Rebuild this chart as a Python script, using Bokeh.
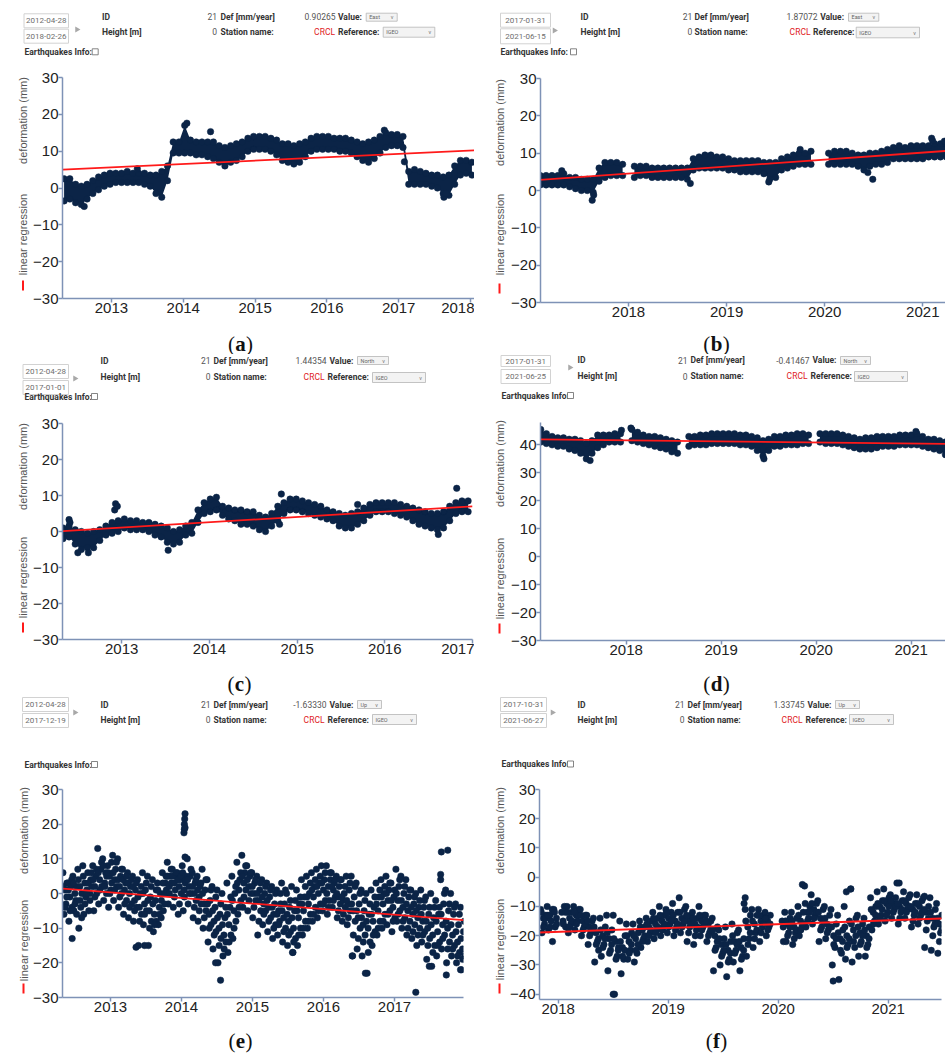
import numpy as np
from math import pi
from bokeh.plotting import figure
from bokeh.layouts import column, row
from bokeh.models import Range1d, FixedTicker
from bokeh.core.properties import value
from bokeh.embed import file_html
from bokeh.resources import INLINE

nan = float("nan")

# ---------------------------------------------------------------- data
YEARS = list(range(2012, 2023))
LETTERS = ["a", "b", "c", "d", "e", "f"]
START_DATES = ["2012-04-28", "2017-01-31", "2012-04-28", "2017-01-31", "2012-04-28", "2017-10-31"]
END_DATES = ["2018-02-26", "2021-06-15", "2017-01-01", "2021-06-25", "2017-12-19", "2021-06-27"]
DEF_RATES = ["0.90265", "1.87072", "1.44354", "-0.41467", "-1.63330", "1.33745"]
COMPONENTS = ["East", "East", "North", "North", "Up", "Up"]
STATION_ID = "21"
HEIGHT = "0"
STATION = "CRCL"
REFERENCE = "IGEO"

# (a) East 2012-2018 : low / high edge of the point cloud, every A_DT years
A_T0, A_DT = 2012.34, 0.08
A_LO = [-3.5, -3, -4, -4.5, -3, -1.5, -0.5, 0.5, 1, 1.5,
        1.5, 1.5, 1.5, 1.5, 1, 0.5, -1.5, -2.5, 2, 9.5,
        9.5, 9.5, 9.5, 9, 9, 8.5, 8, 7, 6, 7,
        7.5, 8.5, 10, 10.5, 10.5, 10.5, 10, 9, 7.5, 7,
        6.5, 7, 8.5, 10, 10.5, 10.5, 10.5, 10.5, 10, 10,
        9.5, 8.5, 7.5, 7, 8, 9.5, 11, 11.5, 11.5, 11,
        1, 1, 1, 1, 0.5, 0, -1.5, -2, 1, 3.5,
        4, 3.5]
A_HI = [2.5, 2.5, 1, 0.5, 1, 2, 3, 3.5, 4, 4,
        4, 4.5, 4, 4, 4, 3.5, 3.5, 4.5, 6, 12.5,
        12.5, 17, 13, 12.5, 12.5, 12.5, 12.5, 11.5, 11, 11.5,
        12, 12.5, 13.5, 14, 14, 14, 13.5, 13, 12, 12,
        11.5, 12, 12.5, 13.5, 14, 14, 14, 13.5, 13.5, 13.5,
        13, 12.5, 12, 12.5, 13, 14, 15, 14.5, 14.5, 14,
        4.5, 5, 4.5, 4, 3.5, 3.5, 3, 3.5, 6, 7.5,
        7.5, 7]
A_OUT_X = [2012.62, 2013.36, 2014.38, 2014.05, 2016.80, 2017.08, 2017.63, 2017.66]
A_OUT_Y = [-5, 5.2, 15.3, 17.6, 15.7, 7.1, -2.5, -1.5]
A_REG_X = [2012.32, 2018.15]
A_REG_Y = [5.0, 10.3]

# (b) East 2017-2021
B_T0, B_DT = 2017.10, 0.06
B_LO = [1.5, 1.5, 1.5, 1.5, 1.5, 1, 0.5, 0, 0, -0.5,
        2.5, 3.5, 4, 4, 4, nan, 3.5, 4, 4, 3.5,
        3.5, 3.5, 3.5, 3.5, 3.5, 3, 5.5, 6, 6, 6,
        6, 6, 5.5, 5.5, 5, 5, 5, 5, 4.5, 3,
        3.5, 5.5, 6, 6.5, 7, 7, 7, nan, nan, 7,
        7, 7, 7, 7, 6.5, 5.5, 6.5, 7, 7, 7.5,
        8.5, 8.5, 8.5, 8.5, 8.5, 8.5, 9, 9, 9, 9,
        9.5, 9.5, 9.5]
B_HI = [4, 4, 4, 4, 4.5, 3.5, 3.5, 3, 3, 3,
        6, 7.5, 7.5, 7.5, 7, nan, 6.5, 6.5, 6.5, 6,
        6, 6, 6, 6, 6, 6, 8.5, 9, 9.5, 9.5,
        9, 9, 8.5, 8, 8, 8, 8, 8, 7.5, 7.5,
        7.5, 8.5, 9, 9.5, 10, 10, 10.5, nan, nan, 10,
        10.5, 10.5, 10.5, 10, 9.5, 9.5, 10, 10, 10.5, 11,
        11.5, 12, 11.5, 12, 12, 12, 12, 12.5, 12.5, 12.5,
        12.5, 12.5, 12.5]
B_OUT_X = [2017.32, 2017.63, 2017.645, 2018.63, 2019.43, 2020.44, 2020.49, 2021.09, 2021.10, 2021.22, 2019.75]
B_OUT_Y = [5.3, -2.6, -1.2, 1.9, 2.3, 4.8, 3.0, 14.0, 13.3, 13.2, 11.0]
B_REG_X = [2017.08, 2021.45]
B_REG_Y = [2.8, 11.0]

# (c) North 2012-2017
C_T0, C_DT = 2012.33, 0.07
C_LO = [-2, -1.5, -3.5, -5, -4.5, -4.5, -2.5, -1, -0.5, 0,
        1, 0.5, 0.5, 0.5, 0, -1, -1.5, -3, -3.5, -3,
        -1, -0.5, 2.5, 5, 5.5, 6, 4.5, 3.5, 3, 2,
        2, 1.5, 0.5, 0, 1.5, 3, 5, 6, 6, 5.5,
        5, 4.5, 4, 3.5, 3, 1.5, 1, 1, 2, 3,
        4.5, 5.5, 5.5, 5.5, 5, 4.5, 4, 3, 2, 1.5,
        1, 0.5, 1, 3, 5, 5.5, 5.5]
C_HI = [1, 1.5, 0.5, 0, -0.5, 0, 0.5, 1.5, 2.5, 3,
        3.5, 3, 3, 2.5, 2.5, 2, 1.5, 1, 0, 0.5,
        1.5, 2.5, 6, 8, 9, 9.5, 7, 6.5, 6, 6,
        5.5, 5.5, 4.5, 4, 5, 7, 8, 9, 9, 8.5,
        8, 7.5, 7, 6, 5.5, 5, 4.5, 5, 5.5, 6.5,
        7.5, 8, 8, 8, 8, 7.5, 7, 6.5, 6, 5.5,
        5, 5, 5.5, 7, 8, 8.5, 8.5]
C_OUT_X = [2012.40, 2012.41, 2012.50, 2012.62, 2012.92, 2012.93, 2012.95, 2013.53, 2014.80, 2014.82, 2015.69, 2016.61, 2016.82]
C_OUT_Y = [3.3, 2.5, -5.9, -5.9, 6.0, 7.7, 7.0, -5.2, 2.0, 10.4, 7.5, -0.8, 12.0]
C_REG_X = [2012.33, 2017.0]
C_REG_Y = [0.1, 7.0]

# (d) North 2017-2021
D_T0, D_DT = 2017.10, 0.06
D_LO = [41, 40.5, 40, 39.5, 39.5, 38.5, 38, 37, 35, 37,
        39, 40, 41, 41, 41, nan, 41.5, 41, 40.5, 40,
        39.5, 39, 38.5, 37.5, 37, nan, 39.5, 40, 40, 40,
        40.5, 40.5, 40.5, 40.5, 40.5, 40, 40, 39.5, 38, 36,
        38, 39.5, 39.5, 40, 40, 40, 40.5, 40.5, nan, 41,
        40.5, 40.5, 40.5, 40, 39.5, 39, 38.5, 38.5, 38.5, 39,
        39.5, 39.5, 39.5, 40, 40, 40, 40, 39.5, 39, 38.5,
        38, 36.5, 35]
D_HI = [45.5, 44, 43, 42.5, 42.5, 42, 42, 41.5, 40.5, 41.5,
        43.5, 43.5, 43.5, 44, 44, nan, 45.5, 44.5, 43.5, 43,
        43, 42.5, 42, 41.5, 41, nan, 43, 43, 43.5, 43.5,
        44, 44, 44, 44, 44, 43.5, 43.5, 43, 42.5, 41.5,
        42, 43, 43, 43.5, 43.5, 44, 44, 43.5, nan, 44,
        44, 44, 44, 43.5, 43, 42.5, 42, 42.5, 42.5, 43,
        43, 43, 43, 43.5, 43.5, 43.5, 44, 43, 42, 42,
        41.5, 41, 40]
D_OUT_X = [2017.62, 2017.95, 2018.05, 2019.45, 2021.05, 2021.40]
D_OUT_Y = [34.4, 45.2, 46, 35, 44.8, 35]
D_REG_X = [2017.08, 2021.48]
D_REG_Y = [42.0, 40.3]

# (e) Up 2012-2017 : individual readings, five per 0.07-year step, plus three core readings per step
E_T0, E_DT = 2012.33, 0.014
E_VALS = [
    [6, -6, 1, -3, 3], [3, -8, -1, 2, -4], [5, -5, 0, -2, 2], [7, -10, 2, -4, 0],
    [8, -6, 3, -1, 1], [6, -5, 0, 4, 2], [8, -5, 2, 5, 0], [13, -3, 4, 7, 2],
    [10, -2, 3, 6, 5], [8, -4, 5, 1, 3], [11, -2, 4, 7, 2], [10, -4, 2, 5, 0],
    [7, -6, 1, 3, -2], [6, -7, 0, 2, -3], [5, -8, -2, 1, -4], [4, -15, -4, 0, -6],
    [6, -9, -3, 1, -5], [5, -15, -5, -1, -8], [4, -11, -6, -2, -8], [3, -9, -4, 0, -2],
    [6, -5, 0, 3, 1], [9, -3, 2, 5, 3], [7, -4, 3, 1, 5], [6, -6, 2, 4, 0],
    [8, -5, 1, 3, 5], [10, -3, 2, 5, 0], [6, -7, 0, 3, -2], [5, -8, -1, 2, -3],
    [7, -10, -3, 1, -5], [4, -14, -6, -2, -9], [2, -16, -8, -4, -11], [1, -20, -10, -6, -13],
    [0, -18, -12, -7, -14], [3, -17, -9, -4, -12], [5, -13, -5, 0, -8], [9, -6, 1, 4, -2],
    [11, -4, 3, 6, 1], [8, -5, 2, 5, 0], [6, -7, 0, 3, -2], [5, -12, -2, 1, -5],
    [4, -9, -3, 0, -5], [3, -11, -4, -1, -7], [2, -13, -6, -3, -9], [1, -12, -5, -8, -3],
    [3, -14, -7, -3, -10], [0, -15, -8, -4, -11], [2, -17, -10, -5, -13], [1, -15, -7, -3, -10],
    [4, -12, -5, -1, -8], [5, -10, -3, 0, -6], [6, -8, -1, 2, -4], [7, -7, 0, 3, -3],
    [8, -5, 1, 4, -2], [8, -6, 2, -2, 4], [6, -4, 1, 3, -1], [5, -7, -1, 2, -3],
    [4, -8, -2, 0, -4], [5, -9, -3, 1, -5], [5, -18, -5, -1, -8], [3, -16, -7, -3, -10],
    [1, -18, -9, -5, -12], [0, -23, -10, -6, -14], [1, -15, -8, -4, -11], [3, -12, -5, -1, -8],
    [4, -10, -3, 0, -6], [5, -9, -2, 1, -5], [3, -11, -4, -1, -7], [7, -8, -2, 2, -5],
    [5, -10, -4, 0, -7], [4, -12, -5, -1, -8], [1, -13, -6, -3, -9], [0, -15, -7, -4, -10],
    [1, -14, -8, -4, -11], [-1, -19, -10, -6, -13], [0, -21, -12, -7, -15], [-2, -18, -11, -6, -14],
    [4, -16, -9, -3, -12], [1, -20, -10, -5, -14], [0, -18, -12, -6, -15], [-3, -20, -14, -9, -17],
    [-4, -22, -16, -11, -18],
]
E_CORE_T0, E_CORE_DT = 2012.337, 0.07 / 3
E_CORE = [
    [2, -4, -1], [1, -5, 4], [3, -3, -6], [4, -2, -7], [5, -3, 0], [3, -2, 6], [4, -1, 7], [6, 1, 9],
    [8, 2, 0], [6, 0, 9], [6, 1, 9], [4, -1, 7], [4, -3, 5], [3, -4, 4], [2, -5, 3], [-1, -8, 2],
    [0, -6, 3], [-2, -10, 2], [-3, -9, 1], [1, -6, -7], [3, -3, 5], [5, 0, 7], [5, -1, 6], [4, -3, 5],
    [6, -1, 4], [4, 0, 7], [2, -4, 4], [1, -5, 3], [0, -7, 4], [-3, -10, 1], [-5, -12, -1], [-7, -15, -3],
    [-9, -16, -4], [-6, -14, -1], [-2, -10, 2], [3, -4, 6], [5, -1, 8], [4, -2, 6], [2, -4, 4], [0, -8, 3],
    [-1, -6, 2], [-2, -8, 1], [-4, -10, 0], [-6, -9, 0], [-5, -11, 1], [-6, -12, -2], [-7, -14, -2], [-5, -12, -1],
    [-3, -10, 2], [-1, -8, 3], [1, -6, 4], [2, -5, 5], [3, -3, 6], [0, -4, 6], [2, -2, 4], [0, -5, 4],
    [-1, -6, 2], [-2, -7, 3], [-3, -12, 2], [-5, -13, 0], [-7, -14, -2], [-8, -17, -3], [-6, -12, -1], [-3, -10, 1],
    [-1, -8, 2], [0, -6, 3], [-2, -8, 1], [0, -6, 4], [-2, -8, 2], [-3, -10, 1], [-4, -11, -1], [-5, -12, -2],
    [-6, -12, -2], [-8, -15, -4], [-9, -17, -4], [-8, -15, -4], [-6, -13, 0], [-8, -16, -3], [-9, -16, -4], [-11, -18, -6],
    [-13, -19, -8],
]
E_OUT_X = [2012.46, 2013.36, 2013.48, 2014.035, 2014.04, 2014.04, 2014.045, 2014.05, 2014.05, 2014.05,
           2014.55, 2014.48, 2015.57, 2016.41, 2016.59, 2017.30, 2017.66, 2017.65, 2017.75, 2017.73,
           2017.49, 2017.93]
E_OUT_Y = [-13, -15.5, -15, 17.5, 18.5, 20, 21.5, 23, 19, 10.5,
           -25, -20, -17, -18, -23, -28.5, 12, 5.5, 12.5, -23.5,
           -21, -22]
E_REG_X = [2012.33, 2017.97]
E_REG_Y = [1.4, -7.7]

# (f) Up 2017-2021 : individual readings, five per 0.06-year step, plus three core readings per step
F_T0, F_DT = 2017.84, 0.012
F_VALS = [
    [-11, -19, -14, -16, -13], [-10, -18, -13, -15, -22], [-11, -17, -14, nan, nan], [nan, -12, -15, -10, -17],
    [-10, -19, -14, -16, -12], [-10, -18, -13, -15, -11], [-11, -20, -15, -17, -13], [-13, -23, -17, -19, -15],
    [-14, -29, -19, -22, -25], [-14, -27, -20, -23, -17], [-13, -32, -21, -25, -18], [-13, -40, -22, -27, -24],
    [-15, -33, -24, -28, -20], [-16, -28, -22, -25, -19], [-16, -29, -21, -26, -19], [-15, -24, -18, -21, -17],
    [-14, -22, -17, -19, -15], [-12, -21, -16, -18, -14], [-10, -20, -15, -17, -13], [-11, -19, -14, -16, -12],
    [-9, -20, -15, -17, -12], [-7, -19, -14, -16, -11], [-10, -22, -15, -17, -13], [-12, -23, -16, -18, -14],
    [-10, -20, -15, -17, -13], [-13, -22, -16, -19, -15], [-14, -32, -20, -24, -17], [-18, -30, -23, -26, -21],
    [-17, -34, -25, -28, -22], [-16, -29, -22, -25, -19], [-18, -32, -24, -27, -21], [-7, -27, -17, -21, -13],
    [-11, -24, -16, -19, -13], [-11, -22, -15, -17, -13], [-12, -20, -15, -17, -13], [nan, nan, nan, nan, nan],
    [nan, nan, nan, -15, -22], [-12, -22, -16, -19, -14], [-12, -23, -17, -19, -14], [-10, -20, -15, -17, -12],
    [-3, -17, -12, -14, -10], [-6, -16, -11, -13, -9], [-8, -22, -14, -17, -11], [-10, -21, -16, -18, -13],
    [-11, -30, -20, -24, -16], [-13, -35, -21, -26, -18], [-10, -28, -20, -23, -15], [-4, -29, -18, -24, -14],
    [-13, -27, -19, -22, -16], [-14, -27, -20, -23, -17], [-7, -18, -12, -15, -10], [-5, -16, -10, -13, -8],
    [-4, -15, -9, -12, -7], [-6, -14, -9, -11, -7], [-2, -16, -10, -12, -8], [-5, -14, -9, -11, -7],
    [-6, -17, -11, -13, -9], [-6, -16, -10, -13, -8], [-7, -24, -12, -15, -10], [-7, -25, -14, -17, -11],
    [-9, -26, -16, -19, -13],
]
F_CORE_T0, F_CORE_DT = 2017.846, 0.02
F_CORE = [
    [-12, -17, -14], [-13, -17, -11], [-12, -16, nan], [nan, -16, -12], [-12, -17, -15], [-12, -16, -13],
    [-13, -18, -16], [-15, -20, -18], [-17, -23, -21], [-18, -24, -21], [-19, -26, -23], [-21, -28, -25],
    [-22, -27, -25], [-20, -26, -23], [-20, -25, -23], [-17, -22, -20], [-16, -20, -18], [-14, -19, -17],
    [-13, -18, -16], [-12, -17, -15], [-13, -18, -16], [-12, -17, -15], [-13, -19, -16], [-14, -20, -17],
    [-13, -18, -16], [-15, -20, -18], [-18, -25, -22], [-21, -27, -25], [-23, -29, -26], [-20, -26, -23],
    [-22, -28, -25], [-15, -23, -19], [-15, -21, -18], [-13, -19, -16], [-14, -18, -16], [nan, nan, nan],
    [nan, nan, -17], [-15, -20, -17], [-15, -21, -18], [-13, -18, -16], [-9, -15, -12], [-9, -14, -12],
    [-12, -18, -15], [-14, -19, -17], [-17, -23, -21], [-19, -25, -22], [-17, -24, -21], [-16, -22, -20],
    [-17, -23, -20], [-18, -24, -21], [-11, -16, -13], [-9, -14, -11], [-8, -13, -10], [-8, -12, -10],
    [-9, -14, -11], [-8, -12, -10], [-10, -15, -12], [-9, -14, -12], [-11, -18, -14], [-12, -20, -16],
    [-14, -22, -18],
]
F_OUT_X = [2018.50, 2019.69, 2019.70, 2020.22, 2020.50, 2020.62, 2020.66, 2021.10, 2021.33]
F_OUT_Y = [-40, -9, -11, -2.5, -35.5, -5, -4, -2, -6.5]
F_REG_X = [2017.83, 2021.49]
F_REG_Y = [-18.9, -14.1]

SERIES = [
    dict(kind="band", t0=A_T0, dt=A_DT, lo=A_LO, hi=A_HI, ox=A_OUT_X, oy=A_OUT_Y, rx=A_REG_X, ry=A_REG_Y),
    dict(kind="band", t0=B_T0, dt=B_DT, lo=B_LO, hi=B_HI, ox=B_OUT_X, oy=B_OUT_Y, rx=B_REG_X, ry=B_REG_Y),
    dict(kind="band", t0=C_T0, dt=C_DT, lo=C_LO, hi=C_HI, ox=C_OUT_X, oy=C_OUT_Y, rx=C_REG_X, ry=C_REG_Y),
    dict(kind="band", t0=D_T0, dt=D_DT, lo=D_LO, hi=D_HI, ox=D_OUT_X, oy=D_OUT_Y, rx=D_REG_X, ry=D_REG_Y),
    dict(kind="pts", t0=E_T0, dt=E_DT, v=E_VALS, ct0=E_CORE_T0, cdt=E_CORE_DT, cv=E_CORE,
         ox=E_OUT_X, oy=E_OUT_Y, rx=E_REG_X, ry=E_REG_Y),
    dict(kind="pts", t0=F_T0, dt=F_DT, v=F_VALS, ct0=F_CORE_T0, cdt=F_CORE_DT, cv=F_CORE,
         ox=F_OUT_X, oy=F_OUT_Y, rx=F_REG_X, ry=F_REG_Y),
]

# ---------------------------------------------------------------- layout / style
NAVY = "#0b2447"
RED = "#ff1a1a"
AXIS = "#7e92b6"
DARK = "#333333"
VAL = "#555555"

LAYOUT = [
    dict(W=470, ox=0, oy=0, hh=62, ph=260, ch=32, sw=30, bl=28, br=0, bt=15, bb=24,
         xr=(2012.318, 2018.056), yr=(-30, 30), yt=list(range(-30, 31, 10)),
         side=(22.5, 58, 172, 223), cap=(240, 21),
         hdr=dict(box_x=(23.5, 68), box_y=[(13.3, 27.3), (28.7, 42.7)], tri=(76.5, 29),
                  id_x=101.5, rows=(16.3, 31), c1=216.5, c2=220, c3=335, c4=337.5,
                  c3b=334.5, c4b=337.5,
                  dd1=(365.7, 396.7, 12.7, 20.7), dd2=(382.7, 434.3, 26.7, 36.7),
                  eq=(24, 51.7), cb=(91.7, 97.7, 48.3, 54.3))),
    dict(W=475, ox=470, oy=0, hh=62, ph=264, ch=28, sw=34, bl=28, br=0, bt=16, bb=24,
         xr=(2017.103, 2021.313), yr=(-30, 30), yt=list(range(-30, 31, 10)),
         side=(25, 60, 172, 226), cap=(242, 17),
         hdr=dict(box_x=(496, 546), box_y=[(12.7, 26.7), (28.3, 43.3)], tri=(550, 30),
                  id_x=576, rows=(16.3, 31), c1=687.7, c2=690, c3=813, c4=815.7,
                  c3b=806, c4b=808.5,
                  dd1=(844, 874.3, 12.7, 20.7), dd2=(851.7, 915, 26.7, 37.3),
                  eq=(496, 51.7), cb=(566, 572, 48.3, 54.3))),
    dict(W=470, ox=0, oy=354, hh=52, ph=260, ch=30, sw=30, bl=28, br=2, bt=17, bb=27,
         xr=(2012.325, 2017.0), yr=(-30, 30), yt=list(range(-30, 31, 10)),
         side=(22.5, 60, 171, 221), cap=(239, 17),
         hdr=dict(box_x=(22.5, 68), box_y=[(364, 378), (380, 394)], tri=(74.5, 378),
                  id_x=100, rows=(360, 376), c1=210, c2=213, c3=326, c4=329,
                  c3b=324, c4b=327,
                  dd1=(357, 388, 356, 364), dd2=(372, 425, 372, 382),
                  eq=(24, 396), cb=(91, 97, 393, 399))),
    dict(W=475, ox=470, oy=354, hh=52, ph=260, ch=30, sw=34, bl=27, br=0, bt=16, bb=26,
         xr=(2017.098, 2021.456), yr=(-30, 48), yt=list(range(-30, 41, 10)),
         side=(25, 57, 172, 222), cap=(242, 17),
         hdr=dict(box_x=(496.5, 546), box_y=[(355, 366), (369, 383)], tri=(565.5, 367),
                  id_x=573, rows=(359.5, 375.5), c1=683, c2=686, c3=805, c4=808,
                  c3b=803, c4b=806,
                  dd1=(836, 866, 356, 364), dd2=(850, 903, 371, 381),
                  eq=(497, 395), cb=(563, 569, 392, 398))),
    dict(W=470, ox=0, oy=696, hh=76, ph=250, ch=32, sw=30, bl=28, br=11, bt=17, bb=25,
         xr=(2012.324, 2017.972), yr=(-30, 30), yt=list(range(-30, 31, 10)),
         side=(23, 58, 168, 216), cap=(240, 18),
         hdr=dict(box_x=(22, 68), box_y=[(697, 711), (713, 727)], tri=(74.5, 712),
                  id_x=100, rows=(704, 719), c1=210, c2=213, c3=326, c4=329,
                  c3b=324, c4b=327,
                  dd1=(357, 381, 700, 708), dd2=(372, 416, 714, 724),
                  eq=(24, 764), cb=(91, 97, 761, 767))),
    dict(W=475, ox=470, oy=696, hh=76, ph=250, ch=32, sw=33, bl=26, br=14, bt=17, bb=23,
         xr=(2017.830, 2021.485), yr=(-41.8, 30), yt=list(range(-40, 31, 10)),
         side=(25, 58, 167, 216), cap=(242, 18),
         hdr=dict(box_x=(496, 542), box_y=[(697, 711), (713, 727)], tri=(548, 712),
                  id_x=573, rows=(704, 719), c1=680, c2=683, c3=800, c4=803,
                  c3b=798, c4b=801,
                  dd1=(831, 855, 700, 708), dd2=(845, 889, 714, 724),
                  eq=(497, 763.5), cb=(563, 569, 760.5, 766.5))),
]

CAP_EM = {"a": 0.5, "b": 0.556, "c": 0.444, "d": 0.556, "e": 0.444, "f": 0.333}


def no_align(p):
    try:
        p.frame_align = False
    except Exception:
        pass
    return p


def blank(W, H):
    p = figure(frame_width=W, frame_height=H, x_range=Range1d(0, W), y_range=Range1d(0, H),
               toolbar_location=None, output_backend="svg", tools="",
               min_border=0, x_axis_type=None, y_axis_type=None)
    p.outline_line_color = None
    p.background_fill_color = "white"
    p.border_fill_color = "white"
    return no_align(p)


def put(p, x, y, t, align="left", color=DARK, style="normal", size="8.5px", font="Roboto", angle=0):
    p.text(x=[x], y=[y], text=[t], text_align=align, text_baseline="middle", angle=angle,
           text_color=color, text_font=value(font), text_font_style=style,
           text_font_size=size)


def make_header(i):
    L = LAYOUT[i]
    s = L["hdr"]
    W, H, ox, oy = L["W"], L["hh"], L["ox"], L["oy"]
    p = blank(W, H)
    X = lambda v: v - ox
    Y = lambda v: H - (v - oy)
    bx0, bx1 = s["box_x"]
    for (y0, y1), d in zip(s["box_y"], (START_DATES[i], END_DATES[i])):
        p.quad(left=[X(bx0)], right=[X(bx1)], top=[Y(y0)], bottom=[Y(y1)],
               fill_color="white", line_color="#d2d2d2", line_width=1)
        put(p, X((bx0 + bx1) / 2), Y((y0 + y1) / 2), d, "center", "#6e6e6e", "normal", "8px")
    tx, ty = s["tri"]
    p.scatter(x=[X(tx)], y=[Y(ty)], marker="triangle", size=6, angle=-pi / 2,
              fill_color="#a8a8a8", line_color=None)
    r1, r2 = s["rows"]
    put(p, X(s["id_x"]), Y(r1), "ID", "left", DARK, "bold")
    put(p, X(s["id_x"]), Y(r2), "Height [m]", "left", DARK, "bold")
    put(p, X(s["c1"]), Y(r1), STATION_ID, "right", VAL)
    put(p, X(s["c1"]), Y(r2), HEIGHT, "right", VAL)
    put(p, X(s["c2"]), Y(r1), "Def [mm/year]", "left", DARK, "bold")
    put(p, X(s["c2"]), Y(r2), "Station name:", "left", DARK, "bold")
    put(p, X(s["c3"]), Y(r1), DEF_RATES[i], "right", VAL)
    put(p, X(s["c3b"]), Y(r2), STATION, "right", "#e0201c")
    put(p, X(s["c4"]), Y(r1), "Value:", "left", DARK, "bold")
    put(p, X(s["c4b"]), Y(r2), "Reference:", "left", DARK, "bold")
    for (x0, x1, y0, y1), t in ((s["dd1"], COMPONENTS[i]), (s["dd2"], REFERENCE)):
        p.quad(left=[X(x0)], right=[X(x1)], top=[Y(y0)], bottom=[Y(y1)],
               fill_color="#f3f3f3", line_color="#b5b5b5", line_width=0.8)
        put(p, X(x0 + 3), Y((y0 + y1) / 2), t, "left", "#666666", "normal", "5.5px")
        put(p, X(x1 - 5), Y((y0 + y1) / 2), "v", "center", "#777777", "normal", "5.5px")
    ex, ey = s["eq"]
    put(p, X(ex), Y(ey), "Earthquakes Info:", "left", DARK, "bold")
    cx0, cx1, cy0, cy1 = s["cb"]
    p.quad(left=[X(cx0)], right=[X(cx1)], top=[Y(cy0)], bottom=[Y(cy1)],
           fill_color="white", line_color="#666666", line_width=0.8)
    return p


def make_side(i):
    L = LAYOUT[i]
    H = L["ph"]
    p = blank(L["sw"], H)
    sx, y_def, y_lin, y_red = L["side"]
    put(p, sx, H - y_def, "deformation (mm)", "center", "#555555", "normal", "11px",
        "Liberation Sans", pi / 2)
    put(p, sx, H - y_lin, "linear regression", "center", "#555555", "normal", "11px",
        "Liberation Sans", pi / 2)
    p.segment(x0=[sx], y0=[H - y_red - 5], x1=[sx], y1=[H - y_red + 5],
              line_color=RED, line_width=2)
    return p


def make_plot(i):
    L = LAYOUT[i]
    S = SERIES[i]
    fw = L["W"] - L["sw"] - L["bl"] - L["br"]
    fh = L["ph"] - L["bt"] - L["bb"]
    p = figure(frame_width=fw, frame_height=fh,
               x_range=Range1d(*L["xr"]), y_range=Range1d(*L["yr"]),
               min_border_left=L["bl"], min_border_right=L["br"],
               min_border_top=L["bt"], min_border_bottom=L["bb"],
               toolbar_location=None, output_backend="svg", tools="")
    no_align(p)
    p.grid.visible = False
    p.outline_line_color = None
    p.background_fill_color = "white"
    p.border_fill_color = "white"
    for ax in (p.xaxis[0], p.yaxis[0]):
        ax.axis_line_color = AXIS
        ax.axis_line_width = 1.5
        ax.major_tick_line_color = AXIS
        ax.major_tick_line_width = 1.5
        ax.major_tick_out = 4
        ax.major_tick_in = 0
        ax.minor_tick_line_color = None
        ax.major_label_text_font = "Liberation Sans"
        ax.major_label_text_font_size = "15px"
        ax.major_label_text_color = "#222222"
        ax.major_label_standoff = 0
    p.xaxis[0].ticker = FixedTicker(ticks=YEARS)
    p.yaxis[0].ticker = FixedTicker(ticks=L["yt"])

    if S["kind"] == "band":
        lo = np.array(S["lo"], dtype=float)
        hi = np.array(S["hi"], dtype=float)
        t = S["t0"] + S["dt"] * np.arange(len(lo))
        idx = np.where(~np.isnan(lo))[0]
        breaks = np.where(np.diff(idx) > 1)[0] + 1
        for chunk in np.split(idx, breaks):
            if len(chunk) > 1:
                p.varea(x=t[chunk], y1=lo[chunk], y2=hi[chunk], fill_color=NAVY)
        p.scatter(x=t[idx], y=lo[idx], size=6.5, fill_color=NAVY, line_color=NAVY, line_width=0.5)
        p.scatter(x=t[idx], y=hi[idx], size=6.5, fill_color=NAVY, line_color=NAVY, line_width=0.5)
    else:
        v = np.array(S["v"], dtype=float).ravel()
        t = S["t0"] + S["dt"] * np.arange(len(v))
        p.scatter(x=t, y=v, size=6.5, fill_color=NAVY, line_color=NAVY, line_width=0.5)
        cv = np.array(S["cv"], dtype=float).ravel()
        ct = S["ct0"] + S["cdt"] * np.arange(len(cv))
        p.scatter(x=ct, y=cv, size=6.5, fill_color=NAVY, line_color=NAVY, line_width=0.5)
    p.scatter(x=S["ox"], y=S["oy"], size=6.5, fill_color=NAVY, line_color=NAVY, line_width=0.5)
    p.line(x=S["rx"], y=S["ry"], line_color=RED, line_width=1.8)
    return p


def make_caption(i):
    L = LAYOUT[i]
    cx, cy = L["cap"]
    H = L["ch"]
    p = blank(L["W"], H)
    letter = LETTERS[i]
    half = CAP_EM[letter] * 21 / 2
    put(p, cx - half - 0.3, H - cy, "(", "right", "#111111", "normal", "21px", "Liberation Serif")
    put(p, cx, H - cy, letter, "center", "#111111", "bold", "21px", "Liberation Serif")
    put(p, cx + half + 0.3, H - cy, ")", "left", "#111111", "normal", "21px", "Liberation Serif")
    return p


panels = [column(make_header(i), row(make_side(i), make_plot(i)), make_caption(i)) for i in range(6)]
page = column(row(panels[0], panels[1]), row(panels[2], panels[3]), row(panels[4], panels[5]))

open("out.html", "w").write(file_html(page, INLINE))
